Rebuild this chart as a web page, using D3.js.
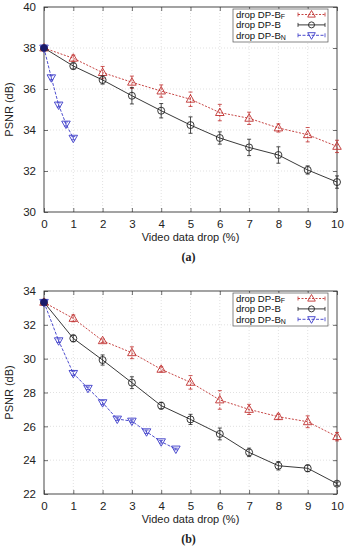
<!DOCTYPE html>
<html><head><meta charset="utf-8">
<script src="https://cdn.jsdelivr.net/npm/d3@7"></script>
<style>body{margin:0;background:#fff}svg{display:block}</style>
</head><body>
<svg id="c" width="348" height="550"></svg>
<script>
// ---- data chart (a)
const xA = [0,1,2,3,4,5,6,7,8,9,10];
const aBF = [38.0,37.5,36.8,36.33,35.9,35.5,34.85,34.57,34.1,33.77,33.2];
const aBFerr = [0,0.15,0.3,0.3,0.3,0.35,0.4,0.3,0.2,0.35,0.3];
const aB = [38.0,37.12,36.44,35.67,34.94,34.24,33.61,33.15,32.78,32.05,31.46];
const aBerr = [0,0.15,0.2,0.4,0.35,0.4,0.3,0.4,0.4,0.2,0.3];
const xAN = [0,0.25,0.5,0.75,1];
const aBN = [38.0,36.55,35.22,34.29,33.6];
const aBNerr = [0,0.1,0.1,0.1,0.08];
// ---- data chart (b)
const xB = [0,1,2,3,4,5,6,7,8,9,10];
const bBF = [33.33,32.38,31.06,30.35,29.37,28.6,27.56,27.0,26.57,26.27,25.39];
const bBFerr = [0,0.2,0.1,0.35,0.15,0.4,0.55,0.3,0.15,0.35,0.25];
const bB = [33.33,31.2,29.92,28.58,27.22,26.41,25.55,24.46,23.67,23.52,22.61];
const bBerr = [0,0.2,0.3,0.35,0.2,0.3,0.35,0.25,0.25,0.2,0.1];
const xBN = [0,0.5,1,1.5,2,2.5,3,3.5,4,4.5];
const bBN = [33.33,31.06,29.13,28.25,27.4,26.43,26.31,25.68,25.09,24.66];
const bBNerr = [0,0.1,0.12,0.08,0.12,0.08,0.08,0.1,0.08,0.05];

const xTicks = [0,1,2,3,4,5,6,7,8,9,10];
const yTicksA = [30,32,34,36,38,40];
const yTicksB = [22,24,26,28,30,32,34];
const legendLabels = [["drop DP-B","F"],["drop DP-B",""],["drop DP-B","N"]];
const xLabel = "Video data drop (%)";
const yLabel = "PSNR (dB)";

const RED = "#c0302f", BLACK = "#222", BLUE = "#3a3ac8";
const svg = d3.select("#c");
const font = "Liberation Sans, Arial, sans-serif";

function triUp(r){return `M0,${-r}L${r*0.95},${r*0.65}L${-r*0.95},${r*0.65}Z`;}
function triDown(r){return `M0,${r}L${r*0.95},${-r*0.65}L${-r*0.95},${-r*0.65}Z`;}

function chart(cfg){
  const L=44,R=337,T=cfg.top,B=cfg.bottom;
  const x = d3.scaleLinear().domain([0,10]).range([L,R]);
  const y = d3.scaleLinear().domain(cfg.ydom).range([B,T]);
  const g = svg.append("g");
  // grid
  g.selectAll(".gx").data(xTicks.slice(1,-1)).join("line")
    .attr("x1",d=>x(d)).attr("x2",d=>x(d)).attr("y1",T).attr("y2",B)
    .attr("stroke","#ccc").attr("stroke-width",0.6).attr("stroke-dasharray","1,2");
  g.selectAll(".gy").data(cfg.yticks.slice(1,-1)).join("line")
    .attr("y1",d=>y(d)).attr("y2",d=>y(d)).attr("x1",L).attr("x2",R)
    .attr("stroke","#ccc").attr("stroke-width",0.6).attr("stroke-dasharray","1,2");
  // axes
  g.append("g").attr("transform",`translate(0,${B})`)
    .call(d3.axisBottom(x).tickValues(xTicks).tickSize(-4).tickPadding(8).tickFormat(d3.format("d")));
  g.append("g").attr("transform",`translate(${L},0)`)
    .call(d3.axisLeft(y).tickValues(cfg.yticks).tickSize(-4).tickPadding(8).tickFormat(d3.format("d")));
  g.append("g").attr("transform",`translate(0,${T})`)
    .call(d3.axisTop(x).tickValues(xTicks).tickSize(-4).tickFormat(""));
  g.append("g").attr("transform",`translate(${R},0)`)
    .call(d3.axisRight(y).tickValues(cfg.yticks).tickSize(-4).tickFormat(""));
  g.selectAll(".domain").remove();
  g.selectAll(".tick line").attr("stroke","#333").attr("stroke-width",0.7);
  g.selectAll(".tick text").attr("font-family",font).attr("font-size",11.5).attr("fill","#222");
  g.append("rect").attr("x",L).attr("y",T).attr("width",R-L).attr("height",B-T)
    .attr("fill","none").attr("stroke","#333").attr("stroke-width",0.9);

  function series(xs,ys,es,color,dash,marker){
    const sg = g.append("g");
    const line = d3.line().x((d,i)=>x(xs[i])).y(d=>y(d));
    sg.append("path").attr("d",line(ys)).attr("fill","none").attr("stroke",color)
      .attr("stroke-width",0.9).attr("stroke-dasharray",dash);
    ys.forEach((v,i)=>{
      if(es[i]>0){
        const cx=x(xs[i]);
        sg.append("line").attr("x1",cx).attr("x2",cx).attr("y1",y(v-es[i])).attr("y2",y(v+es[i]))
          .attr("stroke",color).attr("stroke-width",0.8).attr("stroke-dasharray",dash);
        [v-es[i],v+es[i]].forEach(e=>sg.append("line").attr("x1",cx-2).attr("x2",cx+2)
          .attr("y1",y(e)).attr("y2",y(e)).attr("stroke",color).attr("stroke-width",0.8));
      }
    });
    sg.selectAll(".m").data(ys).join(marker==="c"?"circle":"path")
      .each(function(d,i){
        const s=d3.select(this);
        if(marker==="c") s.attr("cx",x(xs[i])).attr("cy",y(d)).attr("r",3.5);
        else s.attr("transform",`translate(${x(xs[i])},${y(d)})`).attr("d",marker==="u"?triUp(4.5):triDown(4.5));
      })
      .attr("fill","none").attr("stroke",color).attr("stroke-width",0.9);
  }
  series(cfg.xs,cfg.bf,cfg.bfe,RED,"2,1.5","u");
  series(cfg.xs,cfg.b,cfg.be,BLACK,null,"c");
  series(cfg.xn,cfg.bn,cfg.bne,BLUE,"3,1.5","d");
  g.append("circle").attr("cx",x(0)).attr("cy",y(cfg.b[0])).attr("r",3.5).attr("fill","#1a1a6a");

  // legend
  const lx=233, ly=cfg.top+2;
  g.append("rect").attr("x",lx).attr("y",ly).attr("width",95).attr("height",33)
    .attr("fill","#fff").attr("stroke","#555").attr("stroke-width",0.7);
  const cols=[RED,BLACK,BLUE], dashes=["2,1.5",null,"3,1.5"], marks=["u","c","d"];
  legendLabels.forEach((lab,i)=>{
    const yy = ly+5.5+i*10.4;
    const t = g.append("text").attr("x",lx+3).attr("y",yy+3.4).attr("font-family",font)
      .attr("font-size",9.6).attr("fill","#111").text(lab[0]);
    if(lab[1]) t.append("tspan").attr("font-size",7).attr("dy",1.5).text(lab[1]);
    g.append("line").attr("x1",298).attr("x2",325).attr("y1",yy).attr("y2",yy)
      .attr("stroke",cols[i]).attr("stroke-width",0.9).attr("stroke-dasharray",dashes[i]);
    [298,325].forEach(e=>g.append("line").attr("x1",e).attr("x2",e).attr("y1",yy-2).attr("y2",yy+2)
      .attr("stroke",cols[i]).attr("stroke-width",0.8));
    if(marks[i]==="c") g.append("circle").attr("cx",311.5).attr("cy",yy).attr("r",3).attr("fill","none").attr("stroke",cols[i]).attr("stroke-width",0.9);
    else g.append("path").attr("transform",`translate(311.5,${yy})`).attr("d",marks[i]==="u"?triUp(4):triDown(4)).attr("fill","none").attr("stroke",cols[i]).attr("stroke-width",0.9);
  });
  // labels
  g.append("text").attr("x",(L+R)/2).attr("y",B+29).attr("text-anchor","middle")
    .attr("font-family",font).attr("font-size",11).attr("fill","#222").text(xLabel);
  g.append("text").attr("transform",`translate(13,${(T+B)/2}) rotate(-90)`).attr("text-anchor","middle")
    .attr("font-family",font).attr("font-size",11).attr("fill","#222").text(yLabel);
  g.append("text").attr("x",(L+R)/2-2).attr("y",cfg.capY).attr("text-anchor","middle")
    .attr("font-family","Liberation Serif, serif").attr("font-size",12).attr("font-weight","bold").attr("fill","#222").text(cfg.cap);
}

chart({top:7,bottom:212,ydom:[30,40],yticks:yTicksA,xs:xA,bf:aBF,bfe:aBFerr,b:aB,be:aBerr,xn:xAN,bn:aBN,bne:aBNerr,cap:"(a)",capY:261});
chart({top:291,bottom:494,ydom:[22,34],yticks:yTicksB,xs:xB,bf:bBF,bfe:bBFerr,b:bB,be:bBerr,xn:xBN,bn:bBN,bne:bBNerr,cap:"(b)",capY:543});
</script>
</body></html>
